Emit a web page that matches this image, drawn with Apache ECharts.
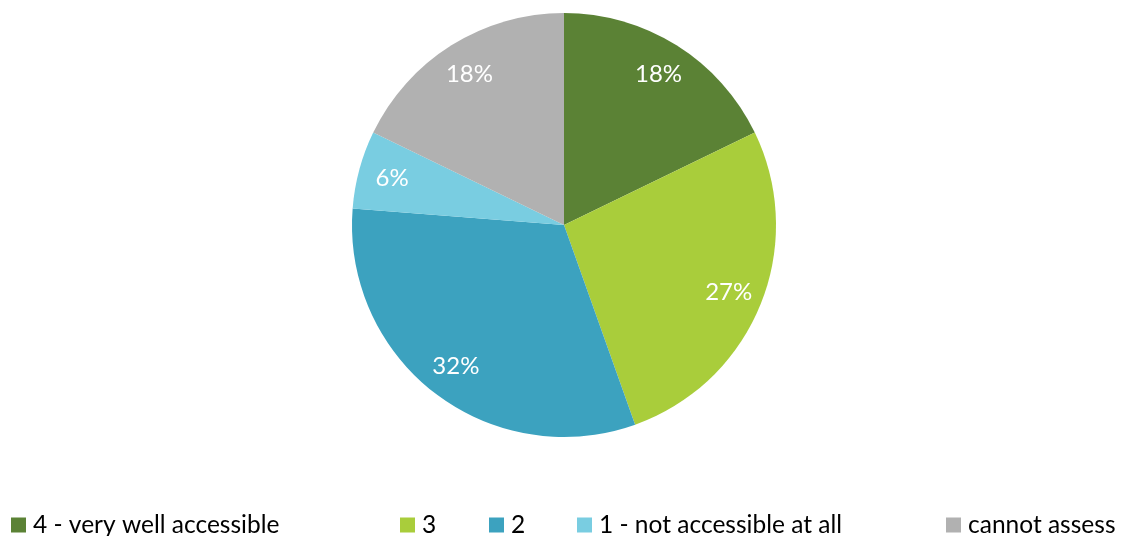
<!DOCTYPE html>
<html>
<head>
<meta charset="utf-8">
<script src="https://cdn.jsdelivr.net/npm/echarts@6/dist/echarts.min.js"></script>
<style>
  html, body { margin: 0; padding: 0; background: #fff; }
  #chart { width: 1126px; height: 536px; }
</style>
</head>
<body>
<div id="chart"></div>
<script>
// Accessibility ratings, share of responses (%)
const categories = ['4 - very well accessible', '3', '2', '1 - not accessible at all', 'cannot assess'];
const shares = [18, 27, 32, 6, 18];
const colors = ['#5B8235', '#A9CD3B', '#3CA2BF', '#79CDE1', '#B1B1B1'];

const FONT = 'Lato';
const CX = 564, CY = 225, R = 212;

const pieData = categories.map((name, i) => ({ name, value: shares[i], itemStyle: { color: colors[i] } }));

// one legend per entry so each sits at its own x position;
// the last entry's text sits a little higher than its marker
const legendLefts = [11, 400, 489, 577, 946];
const legends = categories.map((name, i) => ({
  data: [name],
  left: legendLefts[i],
  top: i === 4 ? 504 : 512,
  padding: 0,
  itemWidth: 15,
  itemHeight: 15,
  icon: 'rect',
  selectedMode: false,
  textStyle: {
    fontFamily: FONT,
    fontSize: 24.5,
    lineHeight: 26,
    color: '#000',
    padding: i === 4 ? [0, 0, 16, 2] : [0, 0, 0, 2]
  }
}));

const chart = echarts.init(document.getElementById('chart'), null, { renderer: 'canvas' });
chart.setOption({
  animation: false,
  legend: legends,
  series: [
    {
      type: 'pie',
      center: [CX, CY],
      radius: [0, R],
      startAngle: 90,
      clockwise: true,
      silent: true,
      label: { show: false },
      labelLine: { show: false },
      data: pieData
    },
    {
      // transparent ring carrying the value labels at ~0.82 of the radius
      type: 'pie',
      center: [CX, CY],
      radius: [138, R],
      startAngle: 90,
      clockwise: true,
      silent: true,
      itemStyle: { color: 'rgba(0,0,0,0)' },
      emphasis: { disabled: true },
      label: {
        show: true,
        position: 'inside',
        formatter: '{c}%',
        color: '#fff',
        fontFamily: FONT,
        fontSize: 24,
        padding: [6, 0, 0, 0]
      },
      labelLine: { show: false },
      data: categories.map((name, i) => ({ name, value: shares[i] }))
    }
  ]
});
</script>
</body>
</html>
